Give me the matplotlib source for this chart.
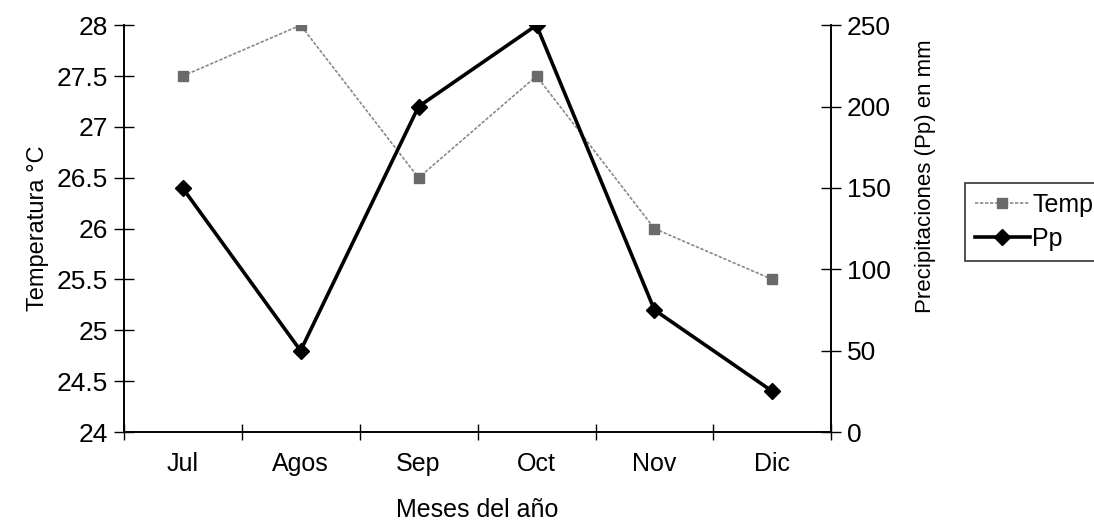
import numpy as np
import matplotlib.pyplot as plt

meses = ['Jul', 'Agos', 'Sep', 'Oct', 'Nov', 'Dic']
temp = [27.5, 28, 26.5, 27.5, 26, 25.5]
pp = [150, 50, 200, 250, 75, 25]

plt.rcParams['font.family'] = ['Liberation Sans', 'DejaVu Sans']

fig = plt.figure(figsize=(10.94, 5.25), dpi=100)
ax = fig.add_axes([0.113, 0.177, 0.647, 0.775])
ax2 = ax.twinx()

x = np.arange(len(meses))
l1, = ax.plot(x, temp, color='#8a8a8a', lw=1.2, ls=(0, (2, 1)), marker='s', ms=7,
              mfc='#6a6a6a', mec='#6a6a6a', label='Temp')
l2, = ax2.plot(x, pp, color='black', lw=2.6, marker='D', ms=8, label='Pp')

ax.set_xlim(-0.5, 5.5)
ax.set_ylim(24, 28)
ax2.set_ylim(0, 250)
ax.set_yticks(np.arange(24, 28.01, 0.5))
ax.set_yticklabels(['24', '24.5', '25', '25.5', '26', '26.5', '27', '27.5', '28'])
ax2.set_yticks(np.arange(0, 251, 50))

ax.set_xticks(np.arange(-0.5, 5.6, 1))
ax.set_xticklabels([])
ax.set_xticks(x, minor=True)
ax.set_xticklabels(meses, minor=True)
ax.tick_params(axis='x', which='minor', length=0, pad=14, labelsize=18)
ax.tick_params(axis='x', which='major', direction='inout', length=12, width=1)
ax.tick_params(axis='y', direction='inout', length=14, width=1, labelsize=19, pad=4)
ax2.tick_params(axis='y', direction='inout', length=14, width=1, labelsize=19, pad=4)

for a in (ax, ax2):
    a.spines['top'].set_visible(False)
    for s in a.spines.values():
        s.set_linewidth(1.2)

ax.set_xlabel('Meses del año', fontsize=18, labelpad=16)
ax.set_ylabel('Temperatura °C', fontsize=17, labelpad=6)
ax2.set_ylabel('Precipitaciones (Pp) en mm', fontsize=16, labelpad=8)
ax2.yaxis.set_label_coords(1.118, 0.63)

leg = fig.legend([l1, l2], ['Temp', 'Pp'], loc='upper left',
                 bbox_to_anchor=(0.882, 0.651), fontsize=18, frameon=True,
                 fancybox=False, edgecolor='black', handlelength=2.2,
                 handletextpad=0.1, borderpad=0.4, labelspacing=0.4,
                 borderaxespad=0)
leg.get_frame().set_linewidth(1.2)

fig.savefig('out.png', dpi=100)
